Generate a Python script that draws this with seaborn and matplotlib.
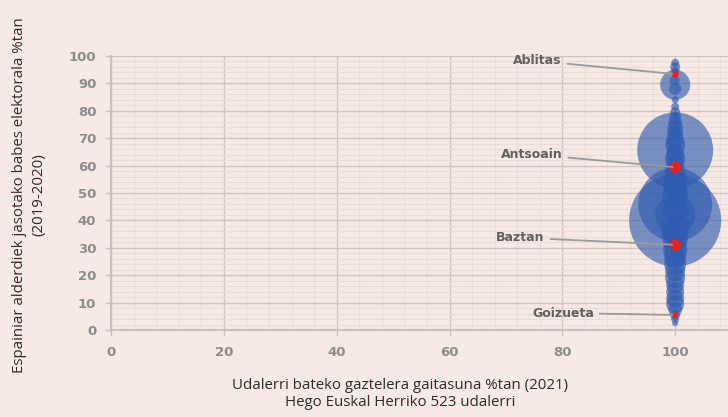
import numpy as np
import pandas as pd
import matplotlib
matplotlib.use("Agg")
import matplotlib.pyplot as plt
import seaborn as sns
from matplotlib.ticker import MultipleLocator

# -------------------------------
# Data
# -------------------------------
# municipalities: castilian competence (%), support for Spanish parties (%), population (thousands)
gaitasuna = [100, 100, 100, 100, 99.9, 100, 100, 100, 100, 100,
             100, 100, 100, 100, 100, 100, 100, 100, 100, 100,
             100, 100, 100, 100, 100, 100, 100, 100, 100, 100,
             100, 100, 100, 100, 100, 100, 100, 100, 100, 100,
             100, 100, 100, 100]
babesa = [97.5, 96, 94.5, 89.5, 91, 88, 84, 81.5, 79.5, 77.5,
          75.5, 73.5, 71.5, 69.5, 67.5, 65.6, 64.5, 62.5, 60.5, 58,
          56, 53.5, 51, 48.5, 45.8, 44, 40, 42, 37, 34,
          31.5, 29, 26.5, 24, 21.5, 19, 16.5, 14, 11.5, 9.5,
          7.5, 5.5, 4, 2.5]
biztanleak = [2.6, 4.1, 2.6, 36.7, 4.1, 5.9, 2.0, 2.6, 4.1, 5.9,
              8.0, 10.4, 10.4, 13.2, 16.3, 235, 13.2, 16.3, 13.2, 16.3,
              19.7, 23.5, 23.5, 27.6, 223, 27.6, 345, 65, 32, 27.6,
              23.5, 23.5, 19.7, 19.7, 16.3, 16.3, 13.2, 13.2, 13.2, 13.2,
              8.0, 4.1, 2.6, 1.5]

# highlighted municipalities
izenak = ["Ablitas", "Antsoain", "Baztan", "Goizueta"]
izen_x = [100, 100, 100, 100]
izen_y = [93.4, 59.4, 31.1, 5.5]
izen_tam = [2.0, 5.5, 5.5, 1.5]
testu_x = [75.6, 74.6, 72.6, 80.2]
testu_y = [98.2, 64.1, 33.7, 6.2]

x_ticks = [0, 20, 40, 60, 80, 100]

df = pd.DataFrame({"gaitasuna": gaitasuna, "babesa": babesa, "biztanleak": biztanleak})
red = pd.DataFrame({"x": izen_x, "y": izen_y, "tam": izen_tam})

bg = "#F7E9E3"
plt.rcParams["font.family"] = ["Open Sans", "DejaVu Sans"]

fig = plt.figure(figsize=(7.28, 4.17), dpi=100, facecolor=bg)
ax = fig.add_axes([111 / 728, 1 - 330 / 417, 677 / 728, 274 / 417])
ax.set_facecolor(bg)

# -------------------------------
# Bubbles
# -------------------------------
smax = 4388
sns.scatterplot(data=df, x="gaitasuna", y="babesa", size="biztanleak",
                sizes=(0, smax), size_norm=(0, 345), color="#2F5BB0",
                alpha=0.63, linewidth=0, legend=False, ax=ax, clip_on=False, zorder=3)
sns.scatterplot(data=red, x="x", y="y", size="tam", sizes=(0, smax * 5.5 / 345),
                size_norm=(0, 5.5), color="#E8231F", linewidth=0, legend=False,
                ax=ax, zorder=4)

for name, px, py, tx, ty in zip(izenak, izen_x, izen_y, testu_x, testu_y):
    ax.annotate(name, xy=(px, py), xytext=(tx, ty), ha="center", va="center",
                fontsize=9, fontweight="bold", color="#606060", family="DejaVu Sans",
                arrowprops=dict(arrowstyle="-", color="#9A9A9A", lw=1.3,
                                shrinkA=2, shrinkB=2), zorder=5)

# -------------------------------
# Axes, grid
# -------------------------------
ax.set_xlim(0, 120)
ax.set_ylim(0, 100)
ax.set_xticks(x_ticks)
ax.xaxis.set_minor_locator(MultipleLocator(4))
ax.yaxis.set_major_locator(MultipleLocator(10))
ax.yaxis.set_minor_locator(MultipleLocator(2))
ax.grid(which="major", color="#D2C5BF", lw=1.0, zorder=0)
ax.grid(which="minor", color="#EADDD7", lw=0.8, zorder=0)
ax.axvline(120, color="#D2C5BF", lw=1.0, zorder=0)
ax.set_axisbelow(True)
for s in ["top", "right"]:
    ax.spines[s].set_visible(False)
for s in ["left", "bottom"]:
    ax.spines[s].set_color("#CBC0BB")
    ax.spines[s].set_linewidth(1.5)
ax.tick_params(which="major", length=4.5, width=1, color="#CBC0BB",
               labelcolor="#8C8C8C", labelsize=9.5)
for lab in ax.get_xticklabels() + ax.get_yticklabels():
    lab.set_family("DejaVu Sans")
    lab.set_fontweight("bold")
ax.tick_params(axis="x", pad=7)
ax.tick_params(axis="y", pad=6)
ax.tick_params(which="minor", length=0)
ax.set_xlabel("")
ax.set_ylabel("")

fig.text(400 / 728, 1 - 394 / 417,
         "Udalerri bateko gaztelera gaitasuna %tan (2021)\nHego Euskal Herriko 523 udalerri",
         ha="center", va="center", fontsize=10.8, color="#2B2B2B", linespacing=1.2)
fig.text(29 / 728, 1 - 195 / 417,
         "Espainiar alderdiek jasotako babes elektorala %tan\n(2019-2020)",
         ha="center", va="center", rotation=90, fontsize=10.8, color="#2B2B2B",
         linespacing=1.45)

fig.savefig("out.png", dpi=100, facecolor=bg)
